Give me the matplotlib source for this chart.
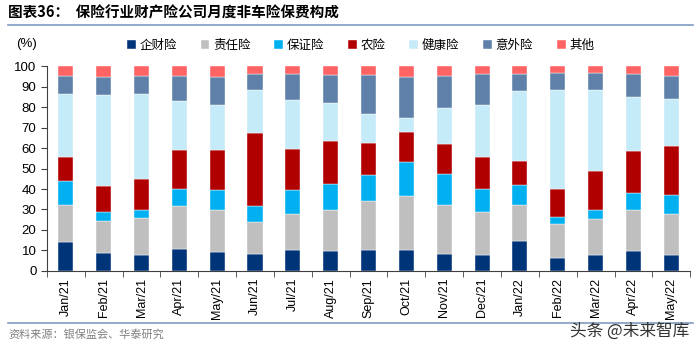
import matplotlib
matplotlib.use("Agg")
import matplotlib.pyplot as plt
import numpy as np

plt.rcParams['font.family'] = ['Liberation Sans', 'Noto Sans CJK SC', 'DejaVu Sans']

months = ['Jan/21', 'Feb/21', 'Mar/21', 'Apr/21', 'May/21', 'Jun/21', 'Jul/21', 'Aug/21', 'Sep/21',
          'Oct/21', 'Nov/21', 'Dec/21', 'Jan/22', 'Feb/22', 'Mar/22', 'Apr/22', 'May/22']

# 各险种占比 (%)
qicai = [14.2, 8.9, 7.6, 10.8, 9.2, 8.4, 10.0, 9.7, 10.0, 10.0, 8.4, 7.6, 14.6, 6.5, 7.6, 9.5, 7.9]
zeren = [18.0, 15.4, 18.0, 20.8, 20.4, 15.7, 18.0, 19.9, 24.0, 26.4, 23.8, 21.4, 17.4, 16.3, 17.6, 20.1, 19.8]
baozheng = [11.8, 4.5, 4.3, 8.4, 9.7, 7.6, 11.3, 12.8, 12.9, 16.7, 14.9, 11.0, 9.9, 3.7, 4.4, 8.4, 9.4]
nong = [11.7, 12.8, 15.1, 19.1, 19.9, 35.6, 20.4, 21.0, 15.6, 14.5, 14.7, 15.5, 11.7, 13.5, 19.3, 20.4, 23.7]
jiankang = [30.9, 44.5, 41.6, 23.7, 21.7, 21.2, 23.8, 18.8, 14.2, 7.3, 18.0, 25.7, 34.4, 48.5, 39.6, 26.7, 23.2]
yiwai = [8.7, 8.6, 8.5, 12.2, 13.6, 7.8, 12.5, 13.4, 18.9, 19.6, 15.3, 14.9, 8.1, 8.3, 8.1, 11.0, 11.3]
qita = [4.7, 5.3, 4.9, 5.0, 5.5, 3.7, 4.0, 4.4, 4.4, 5.5, 4.9, 3.9, 3.9, 3.2, 3.4, 3.9, 4.7]

series = [
    ('企财险', qicai, '#003478'),
    ('责任险', zeren, '#BFBFBF'),
    ('保证险', baozheng, '#00B0F0'),
    ('农险', nong, '#B00000'),
    ('健康险', jiankang, '#C5EAF8'),
    ('意外险', yiwai, '#5F80A8'),
    ('其他', qita, '#FF6363'),
]

fig = plt.figure(figsize=(7, 3.5), dpi=100)
ax = fig.add_axes([0.067, 0.226, 0.919, 0.585])

x = np.arange(len(months))
bottom = np.zeros(len(months))
for name, vals, col in series:
    ax.bar(x, vals, width=0.4, bottom=bottom, color=col, label=name, edgecolor='white', linewidth=0.3)
    bottom += np.array(vals)

ax.set_xlim(-0.5, len(months) - 0.5)
ax.set_ylim(0, 100)
ax.set_yticks(range(0, 101, 10))
ax.set_xticks(x)
ax.set_xticklabels(months, rotation=90, fontsize=9)
ax.set_xticks(np.arange(-0.5, len(months), 1), minor=True)
ax.tick_params(axis='x', which='major', length=0, pad=5)
ax.tick_params(axis='x', which='minor', length=4, color='#404040')
ax.tick_params(axis='y', labelsize=9.5, length=4, color='#404040')
for s in ['top', 'right']:
    ax.spines[s].set_visible(False)
ax.spines['left'].set_color('#404040')
ax.spines['bottom'].set_color('#404040')

leg = fig.legend(loc='center', bbox_to_anchor=(0.515, 0.871), ncol=7, frameon=False,
                 handlelength=0.7, handleheight=0.7, handletextpad=0.3, columnspacing=1.9,
                 prop={'family': ['Noto Sans CJK SC'], 'size': 9})

fig.text(0.023, 0.875, '(%)', fontsize=9.5, va='center')
fig.text(0.012, 0.965, '图表36：  保险行业财产险公司月度非车险保费构成', fontsize=10.5, fontweight='bold',
         family=['Noto Sans CJK SC'], va='center')
fig.add_artist(plt.Line2D([0.012, 0.99], [0.929, 0.929], color='#7F9BBF', linewidth=1.2))
fig.add_artist(plt.Line2D([0.012, 0.99], [0.077, 0.077], color='#7F9BBF', linewidth=1.2))
fig.text(0.012, 0.043, '资料来源：银保监会、华泰研究', fontsize=8, color='#808080',
         family=['Noto Sans CJK SC'], va='center')
fig.text(0.985, 0.055, '头条 @未来智库', fontsize=12, color='#333333',
         family=['Noto Sans CJK SC'], va='center', ha='right')

fig.savefig('out.png', dpi=100)
